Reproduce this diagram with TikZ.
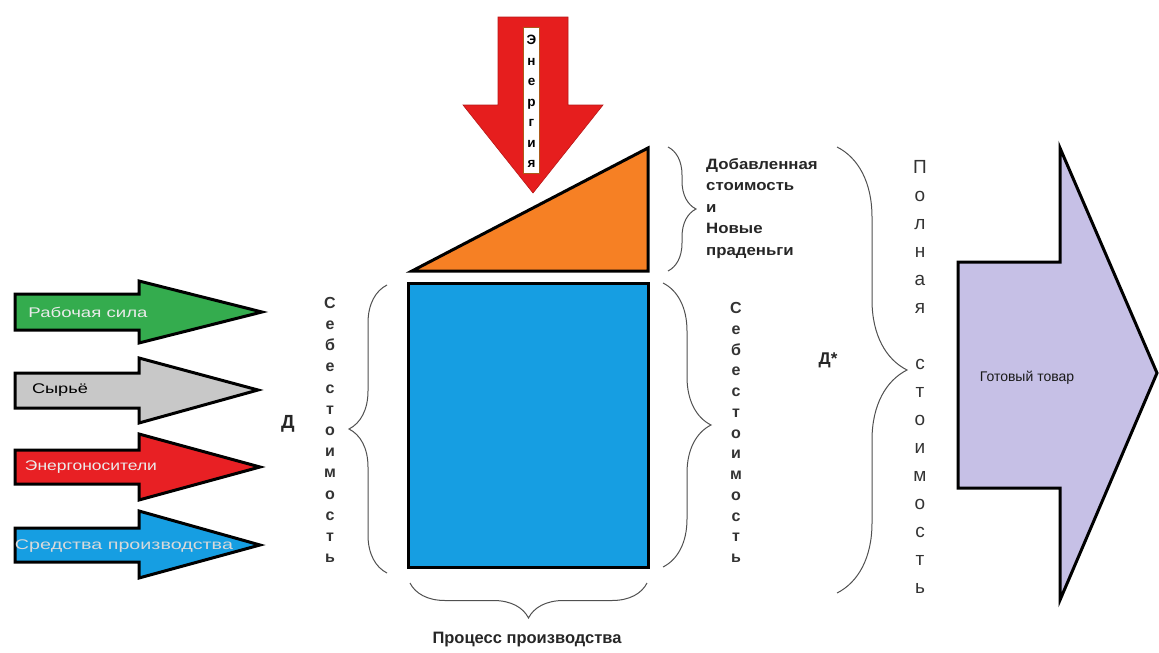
\documentclass[tikz,border=0pt]{standalone}
\usepackage{fontspec}
\setmainfont{Liberation Sans}
\usepackage{graphicx}
\usetikzlibrary{decorations.pathreplacing}
\definecolor{cgreen}{RGB}{52,172,78}
\definecolor{cgray}{RGB}{200,200,200}
\definecolor{cred}{RGB}{232,32,36}
\definecolor{cblue}{RGB}{22,158,226}
\definecolor{corange}{RGB}{246,128,36}
\definecolor{cpurple}{RGB}{198,192,230}
\definecolor{cenergy}{RGB}{230,30,30}
\definecolor{bracecol}{RGB}{80,80,80}
\tikzset{
  inarrow/.style={draw=black, line width=3pt, line join=miter},
  bigshape/.style={draw=black, line width=3pt, line join=miter},
  curly/.style={draw=bracecol, line width=1pt, decorate, decoration={brace, amplitude=#1}},
  intext/.style={inner sep=0pt, font=\fontsize{14}{16}\selectfont},
  vword/.style={align=center, inner sep=0pt, text=black!80},
  lbl/.style={inner sep=0pt, font=\bfseries, text=black!85}
}
\begin{document}
\begin{tikzpicture}[x=1pt,y=-1pt]
\useasboundingbox (0,0) rectangle (1159,653);
% input arrows
\path[inarrow, fill=cgreen] (15,294) -- (139,294) -- (139,281) -- (262,312) -- (139,343) -- (139,330) -- (15,330) -- cycle;
\path[inarrow, fill=cgray] (15,373) -- (139,373) -- (139,358) -- (258,390) -- (139,423) -- (139,408) -- (15,408) -- cycle;
\path[inarrow, fill=cred] (15,450) -- (139,450) -- (139,434) -- (260,467) -- (139,500) -- (139,484) -- (15,484) -- cycle;
\path[inarrow, fill=cblue] (15,528) -- (139,528) -- (139,511) -- (260,545) -- (139,578) -- (139,562) -- (15,562) -- cycle;
\node[intext, text=white!92!black] (t1) at (88,312) {\resizebox{119pt}{\height}{Рабочая сила}};
\node[intext, text=black] (t2) at (60,390) {\resizebox{56pt}{\height}{Сырьё}};
\node[intext, text=white!92!black] (t3) at (91,467) {\resizebox{132pt}{\height}{Энергоносители}};
\node[intext, text=white!85!black] (t4) at (124,546) {\resizebox{218pt}{\height}{Средства производства}};
% triangle and rectangle
\coordinate (tl) at (412,271);
\coordinate (tt) at (648,148);
\coordinate (tr) at (648,271);
\path[bigshape, fill=corange] (tl) -- (tt) -- (tr) -- cycle;
\coordinate (rnw) at (408,283);
\coordinate (rse) at (648,567);
\path[bigshape, fill=cblue] (rnw) rectangle (rse);
% energy arrow
\path[fill=cenergy, draw=cenergy!80!black, line width=0.6pt] (498,17) -- (568,17) -- (568,105) -- (603,105) -- (533,193) -- (463,105) -- (498,105) -- cycle;
\node[draw=corange!70!black, fill=white, line width=0.6pt, minimum width=16pt, minimum height=146pt, inner sep=0pt] (ebox) at (531.5,100.5) {};
\node[vword, font=\fontsize{13.5}{20.5}\selectfont\bfseries, text=black] (etext) at (531.5,101.5) {Э\\н\\е\\р\\г\\и\\я};
% braces
\coordinate (lb1) at (387,573);
\coordinate (lb2) at (387,285);
\draw[curly=38pt] (lb1) -- (lb2);
\coordinate (rb1) at (663,283);
\coordinate (rb2) at (663,567);
\draw[curly=48pt] (rb1) -- (rb2);
\coordinate (tb1) at (668,147);
\coordinate (tb2) at (668,271);
\draw[curly=28pt] (tb1) -- (tb2);
\coordinate (bb1) at (837,147);
\coordinate (bb2) at (837,593);
\draw[curly=70pt] (bb1) -- (bb2);
\coordinate (pb1) at (647,583);
\coordinate (pb2) at (410,583);
\draw[curly=35pt] (pb1) -- (pb2);
% vertical words
\node[vword, font=\fontsize{16}{21.2}\selectfont\bfseries] (ls) at (330,430) {С\\е\\б\\е\\с\\т\\о\\и\\м\\о\\с\\т\\ь};
\node[vword, font=\fontsize{16}{20.75}\selectfont\bfseries] (rs) at (736,432.5) {С\\е\\б\\е\\с\\т\\о\\и\\м\\о\\с\\т\\ь};
\node[vword, font=\fontsize{19}{28}\selectfont] (ps) at (920,377) {П\\о\\л\\н\\а\\я\\\mbox{}\\с\\т\\о\\и\\м\\о\\с\\т\\ь};
% labels
\node[lbl, font=\fontsize{19}{22}\selectfont\bfseries] (d) at (288,424) {Д};
\node[lbl, font=\fontsize{17}{20}\selectfont\bfseries] (dstar) at (828,360) {Д*};
\node[lbl, anchor=north west, font=\fontsize{15}{21.5}\selectfont\bfseries] (added) at (706,154) {\scalebox{1.12}[1]{\begin{tabular}{@{}l@{}}Добавленная\\стоимость\\и\\Новые\\праденьги\end{tabular}}};
\node[lbl, font=\fontsize{16.5}{19}\selectfont\bfseries] (proc) at (527,640) {Процесс производства};
% output arrow
\path[bigshape, fill=cpurple] (958,262) -- (1060,262) -- (1060,148) -- (1157,373) -- (1060,600) -- (1060,488) -- (958,488) -- cycle;
\node[inner sep=0pt, font=\fontsize{14}{16}\selectfont, text=black!90] (goods) at (1027,378) {Готовый товар};
\end{tikzpicture}
\end{document}
